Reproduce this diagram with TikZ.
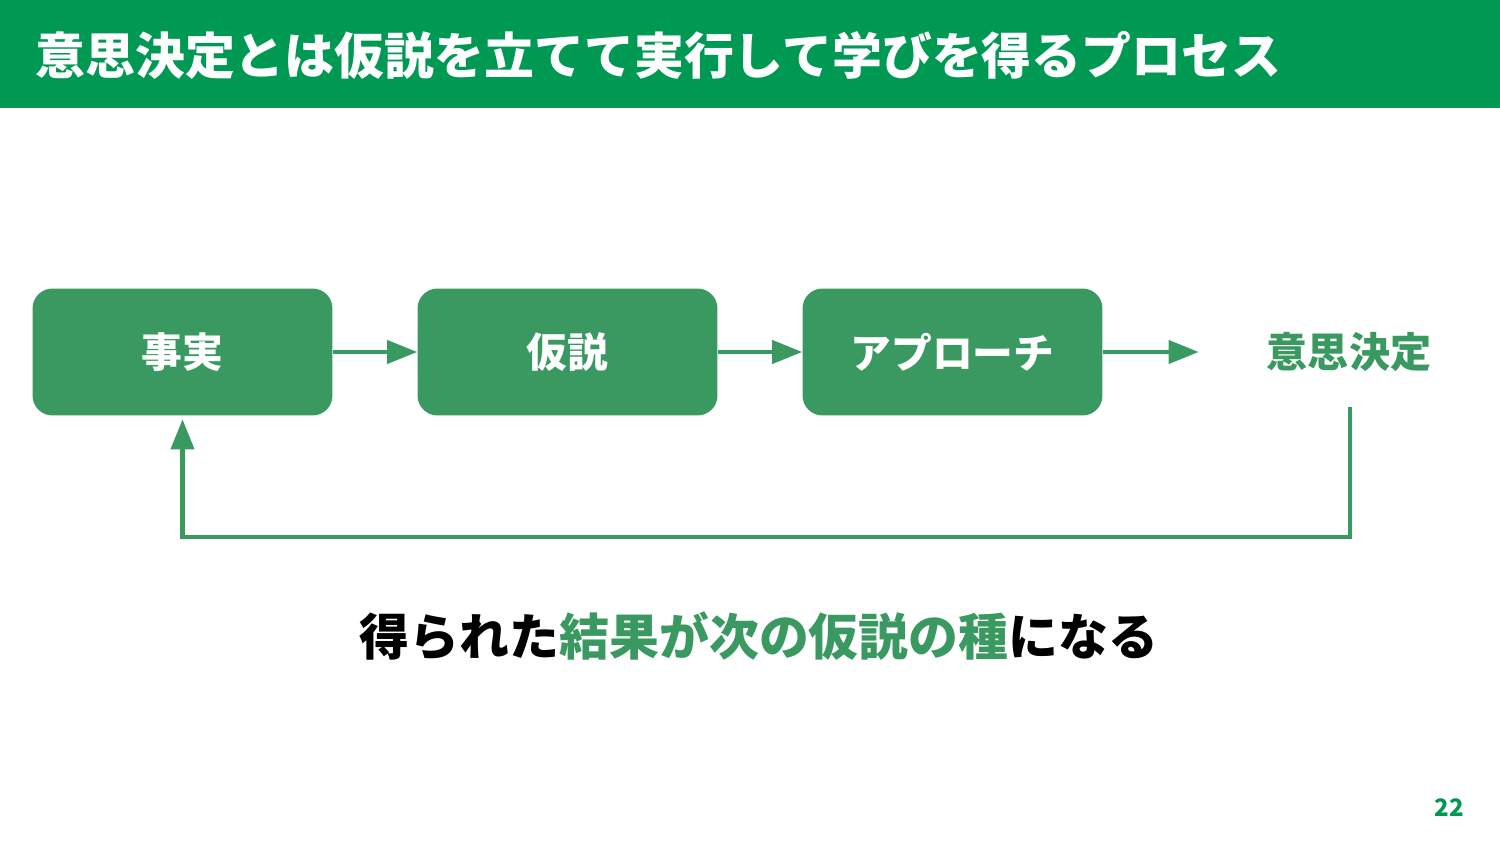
\documentclass[tikz,border=0pt]{standalone}
\usepackage{fontspec}
\setmainfont{Noto Sans CJK JP}
\usetikzlibrary{arrows.meta}
\definecolor{barGreen}{RGB}{0,153,84}
\definecolor{boxGreen}{RGB}{58,153,96}
\begin{document}
\begin{tikzpicture}[x=0.02cm, y=-0.02cm,
    stepbox/.style={rectangle, rounded corners=0.4cm, fill=boxGreen, text=white,
      minimum width=6cm, minimum height=2.54cm, inner sep=0pt,
      font=\fontsize{23.2}{26}\selectfont\bfseries},
    flow/.style={draw=boxGreen, line width=2.3pt, -{Triangle[length=0.6cm, width=0.46cm]}}]
  \useasboundingbox (0,0) rectangle (1500,844);
  \fill[barGreen] (0,0) rectangle (1500,108);
  \node (title) at (35,55) [anchor=west, text=white, inner sep=0pt,
    font=\fontsize{28.4}{31}\selectfont\bfseries] {意思決定とは仮説を立てて実行して学びを得るプロセス};
  \node (fact) at (182.5,352) [stepbox] {事実};
  \node (hypo) at (567.5,352) [stepbox] {仮説};
  \node (appr) at (952.5,352) [stepbox] {アプローチ};
  \node (dec) at (1349,352) [text=boxGreen, inner sep=0pt, minimum width=6cm,
    font=\fontsize{23.4}{26}\selectfont\bfseries] {意思決定};
  \foreach \source/\dest in {fact/hypo, hypo/appr, appr/dec}
    \path[flow] (\source) -- (\dest.west);
  \coordinate (back) at (1350,407);
  \coordinate (turn) at (1350,537);
  \path[flow, shorten >=2pt] (back) -- (turn) -| (fact.south);
  \node (note) at (759,636) [inner sep=0pt, font=\fontsize{28.4}{32}\selectfont\bfseries]
    {得られた\textcolor{boxGreen}{結果が次の仮説の種}になる};
  \node (page) at (1449,808) [text=barGreen, inner sep=0pt,
    font=\fontsize{13.7}{16}\selectfont\bfseries] {22};
\end{tikzpicture}
\end{document}
